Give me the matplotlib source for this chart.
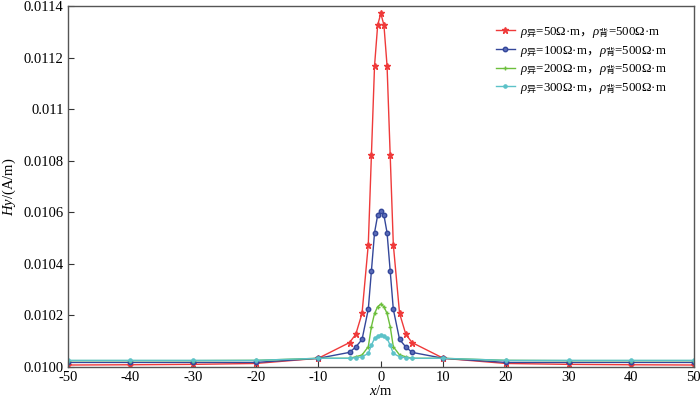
import matplotlib
matplotlib.use('Agg')
import matplotlib.pyplot as plt

plt.rcParams['font.family'] = ['Liberation Serif', 'Noto Sans CJK SC']
plt.rcParams['mathtext.fontset'] = 'custom'
plt.rcParams['mathtext.rm'] = 'Noto Sans CJK SC'
plt.rcParams['mathtext.it'] = 'Liberation Serif:italic'

# x positions of the computed points (m)
x = [-50, -40, -30, -20, -10, -5, -4, -3, -2, -1.5, -1, -0.5, 0,
     0.5, 1, 1.5, 2, 3, 4, 5, 10, 20, 30, 40, 50]

# Hy values (A/m), symmetric about x = 0
half_50 = [0.010008, 0.010009, 0.0100105, 0.010014, 0.010034, 0.010095,
           0.010127, 0.010208, 0.010475, 0.010822, 0.011168, 0.011326]
peak_50 = 0.011371
half_100 = [0.010018, 0.010018, 0.010018, 0.010018, 0.010034, 0.010057,
            0.010078, 0.010107, 0.010224, 0.010373, 0.010521, 0.010589]
peak_100 = 0.010606
half_200 = [0.010025, 0.010025, 0.010025, 0.010026, 0.010034, 0.010034,
            0.010040, 0.010047, 0.010079, 0.010157, 0.010208, 0.010234]
peak_200 = 0.010244
half_300 = [0.010026, 0.010026, 0.010026, 0.010026, 0.010034, 0.010034,
            0.010036, 0.010040, 0.010053, 0.010085, 0.010111, 0.010120]
peak_300 = 0.010124

hy_50 = half_50 + [peak_50] + half_50[::-1]
hy_100 = half_100 + [peak_100] + half_100[::-1]
hy_200 = half_200 + [peak_200] + half_200[::-1]
hy_300 = half_300 + [peak_300] + half_300[::-1]

rho_a = [50, 100, 200, 300]
rho_b = 500
labels = [r'$\rho_{\mathrm{异}}$=%dΩ·m$\mathrm{，}$$\rho_{\mathrm{背}}$=%dΩ·m' % (r, rho_b)
          for r in rho_a]

yticks = [0.0100, 0.0102, 0.0104, 0.0106, 0.0108, 0.0110, 0.0112, 0.0114]
ytick_labels = ['0.0100', '0.0102', '0.0104', '0.0106', '0.0108', '0.011', '0.0112', '0.0114']
xticks = [-50, -40, -30, -20, -10, 0, 10, 20, 30, 40, 50]

fig = plt.figure(figsize=(7, 3.99), dpi=100)
ax = fig.add_axes([0.097, 0.08, 0.894, 0.905])

ax.plot(x, hy_50, '-', color='#ef3a3a', lw=1, marker='*', ms=4.5, label=labels[0])
ax.plot(x, hy_100, '-', color='#34479a', lw=1, marker='o', ms=3.2,
        mfc='#5a6cb8', mec='#34479a', label=labels[1])
ax.plot(x, hy_200, '-', color='#6cbf3c', lw=1, marker='+', ms=3.5, mew=1, label=labels[2])
ax.plot(x, hy_300, '-', color='#5cc2c8', lw=1, marker='o', ms=2.3,
        mec='#5cc2c8', label=labels[3])

ax.set_xlim(-50, 50)
ax.set_ylim(0.0100, 0.0114)
ax.set_xticks(xticks)
ax.set_xticklabels([str(t) for t in xticks], fontsize=10.5)
ax.set_yticks(yticks)
ax.set_yticklabels(ytick_labels, fontsize=10.5)
ax.tick_params(direction='in', length=4, width=0.8, color='#333333', pad=3)

for s in ax.spines.values():
    s.set_color('#555555')
    s.set_linewidth(1.0)

ax.set_xlabel(r'$x$/m', fontsize=10.5, labelpad=0)
ax.set_ylabel(r'$Hy$/(A/m)', fontsize=10.5, labelpad=4)

ax.legend(loc='upper right', bbox_to_anchor=(0.968, 0.965), frameon=False, fontsize=9.3,
          handlelength=1.5, handletextpad=0.4, labelspacing=0.3, borderpad=0)

fig.savefig('out.png', dpi=100)
